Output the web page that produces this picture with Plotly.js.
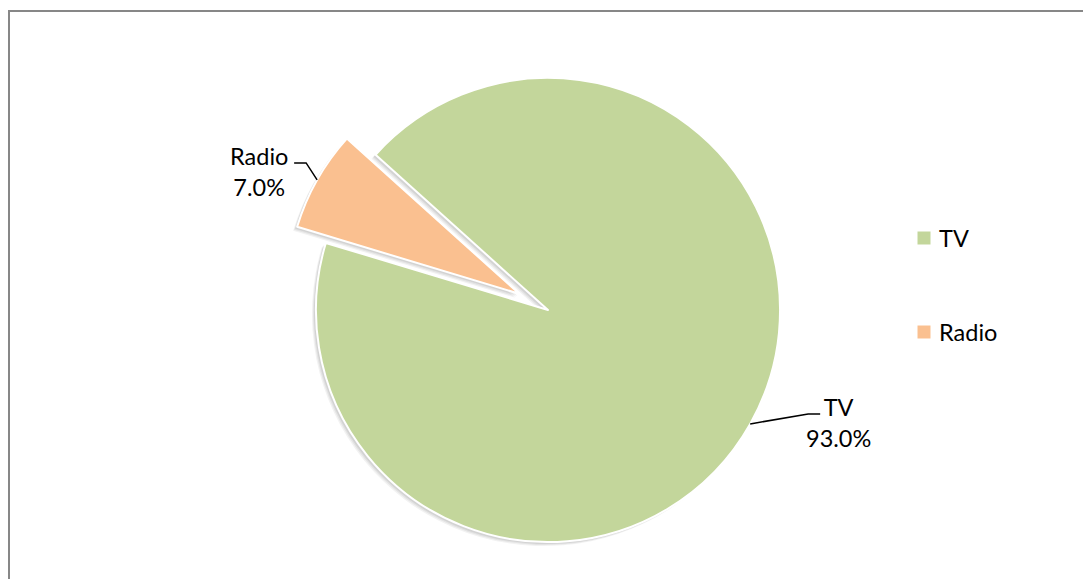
<!DOCTYPE html>
<html>
<head>
<meta charset="utf-8">
<script src="https://cdn.plot.ly/plotly-3.0.1.min.js"></script>
<style>
  html, body { margin: 0; padding: 0; background: #ffffff; }
  #chart { width: 1083px; height: 579px; }
</style>
</head>
<body>
<div id="chart"></div>
<script>
// ---- data ----
var categories = ['TV', 'Radio'];
var values = [93.0, 7.0];
var sliceColors = ['#C3D69B', '#FAC090'];
var pulls = [0, 0.142];

// ---- layout constants ----
var W = 1083, H = 579;
var FONT = 'Lato, "Open Sans", sans-serif';
var FONT_SIZE = 23.5;
var rotationDeg = -48;
var domX = [0.2613, 0.7507];
var domY = [0.0069, 0.9223];
// label placement relative to the slice edge point (pixels)
var labelOffsets = [[88, -1], [-58, -8]];
var leaderBends = [[[58, -10], [70, -10]], [[-11, -17], [-23, -17]]];
// legend placement (pixels)
var legendX = 924, legendY0 = 238, legendStep = 94, legendBox = 13;

// pie geometry derived as plotly.js does it
var maxPull = Math.max.apply(null, pulls);
var boxW = W * (domX[1] - domX[0]), boxH = H * (domY[1] - domY[0]);
var R = Math.min(boxW / 2, boxH / 2) / (1 + maxPull);
var cx = W * (domX[0] + domX[1]) / 2;
var cy = H * (1 - domY[0]) - boxH / 2;
var total = values.reduce(function (a, b) { return a + b; }, 0);

function px2x(px) { return px / W; }
function py2y(py) { return 1 - py / H; }

var annotations = [];
var shapes = [];
var start = rotationDeg * Math.PI / 180;
for (var i = 0; i < values.length; i++) {
  var span = 2 * Math.PI * values[i] / total;
  var mid = start + span / 2;
  start += span;
  var sx = Math.sin(mid), sy = -Math.cos(mid);
  var ox = cx + pulls[i] * R * sx, oy = cy + pulls[i] * R * sy;
  var ex = ox + R * sx, ey = oy + R * sy;
  var pct = (values[i] / total * 100).toFixed(1) + '%';
  annotations.push({
    xref: 'paper', yref: 'paper',
    x: px2x(ex + labelOffsets[i][0]), y: py2y(ey + labelOffsets[i][1]),
    xanchor: 'center', yanchor: 'middle',
    text: categories[i] + '<br>' + pct,
    showarrow: false,
    font: { family: FONT, size: FONT_SIZE, color: '#000000' }
  });
  var b = leaderBends[i];
  shapes.push({
    type: 'path', xref: 'paper', yref: 'paper',
    path: 'M ' + px2x(ex) + ' ' + py2y(ey) +
          ' L ' + px2x(ex + b[0][0]) + ' ' + py2y(ey + b[0][1]) +
          ' L ' + px2x(ex + b[1][0]) + ' ' + py2y(ey + b[1][1]),
    line: { color: '#000000', width: 1.5 }
  });
  // legend entry
  var ly = legendY0 + i * legendStep;
  shapes.push({
    type: 'rect', xref: 'paper', yref: 'paper',
    x0: px2x(legendX - legendBox / 2), x1: px2x(legendX + legendBox / 2),
    y0: py2y(ly + legendBox / 2), y1: py2y(ly - legendBox / 2),
    fillcolor: sliceColors[i], line: { width: 0 }
  });
  annotations.push({
    xref: 'paper', yref: 'paper',
    x: px2x(legendX + 13), y: py2y(ly),
    xanchor: 'left', yanchor: 'middle',
    text: categories[i], showarrow: false,
    font: { family: FONT, size: FONT_SIZE, color: '#000000' }
  });
}

// chart-area border
shapes.push({
  type: 'rect', xref: 'paper', yref: 'paper',
  x0: px2x(9), x1: px2x(W + 10), y0: py2y(H + 10), y1: py2y(11),
  line: { color: '#878787', width: 2 }, fillcolor: 'rgba(0,0,0,0)'
});

// soft drop shadow layers (same slices, shifted down-left)
var shadowOffsets = [[-4, 4, 0.05], [-3, 3, 0.06], [-2, 2, 0.07]];
var traces = shadowOffsets.map(function (s) {
  var dx = s[0] / W, dy = -s[1] / H;
  return {
    type: 'pie', labels: categories, values: values, sort: false,
    direction: 'clockwise', rotation: rotationDeg, pull: pulls,
    marker: { colors: categories.map(function () { return 'rgba(0,0,0,' + s[2] + ')'; }),
              line: { width: 0 } },
    textinfo: 'none', hoverinfo: 'skip',
    domain: { x: [domX[0] + dx, domX[1] + dx], y: [domY[0] + dy, domY[1] + dy] },
    showlegend: false
  };
});

traces.push({
  type: 'pie',
  labels: categories,
  values: values,
  sort: false,
  direction: 'clockwise',
  rotation: rotationDeg,
  pull: pulls,
  marker: { colors: sliceColors, line: { color: '#ffffff', width: 2 } },
  textinfo: 'none',
  hoverinfo: 'label+percent',
  domain: { x: domX, y: domY },
  showlegend: false
});

var layout = {
  width: W, height: H,
  margin: { l: 0, r: 0, t: 0, b: 0 },
  paper_bgcolor: '#ffffff',
  showlegend: false,
  annotations: annotations,
  shapes: shapes
};

Plotly.newPlot('chart', traces, layout, { displayModeBar: false, staticPlot: true });
</script>
</body>
</html>
